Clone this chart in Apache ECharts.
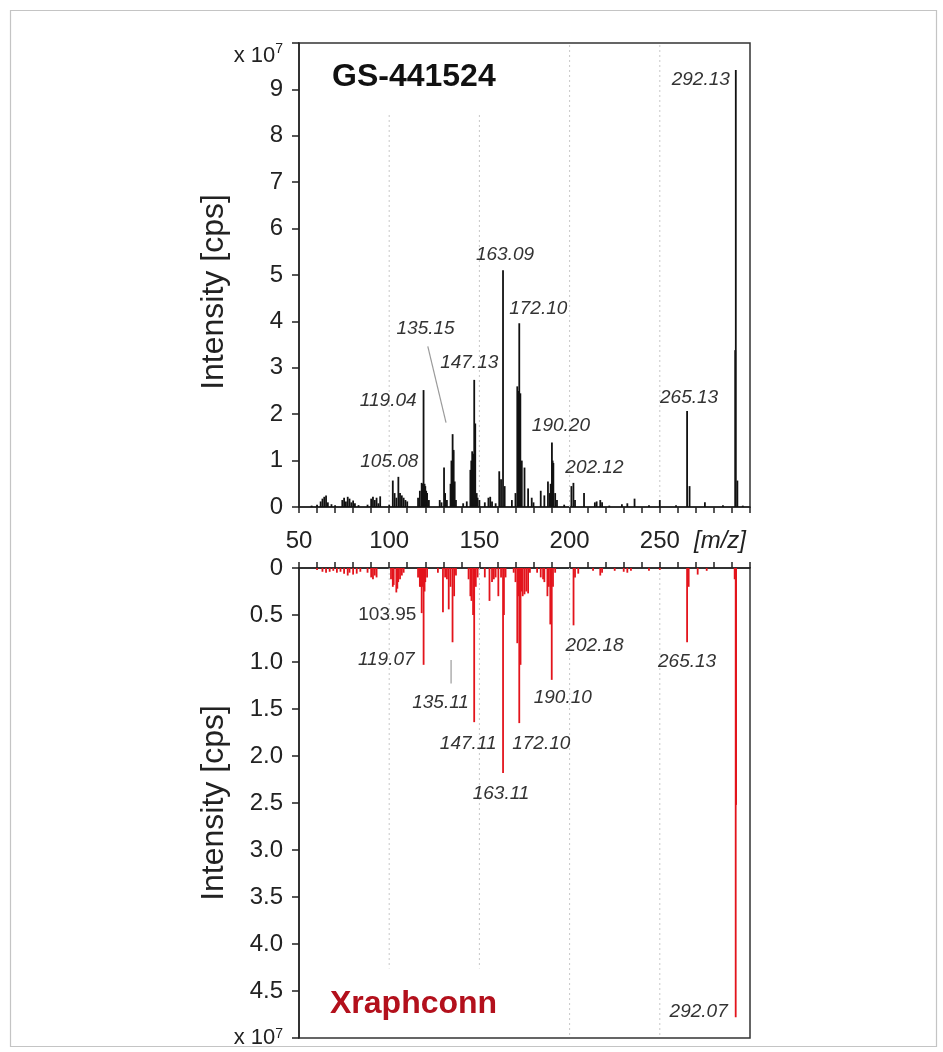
<!DOCTYPE html>
<html>
<head>
<meta charset="utf-8">
<title>GS-441524 / Xraphconn</title>
<script src="https://cdn.jsdelivr.net/npm/echarts@6/dist/echarts.min.js"></script>
<style>
  html, body { margin: 0; padding: 0; background: #fff; }
  #main { width: 943px; height: 1052px; }
</style>
</head>
<body>
<div id="main"></div>
<script>
// ---- data (intensity in units of 1e7 cps) ----
var mzTicks = [50, 100, 150, 200, 250];

// GS-441524 spectrum: [m/z, intensity]
var gsPeaks = [
  [57, 0.03], [60, 0.05], [62, 0.12], [63, 0.18], [64, 0.22], [65, 0.25], [66, 0.1], [68, 0.06], [70, 0.04],
  [74, 0.15], [75, 0.2], [76, 0.12], [77, 0.22], [78, 0.18], [79, 0.1], [80, 0.14], [81, 0.08], [83, 0.04],
  [88, 0.05], [90, 0.18], [91, 0.22], [92, 0.15], [93, 0.2], [94, 0.08], [95, 0.23],
  [100, 0.05], [102, 0.57], [103, 0.3], [104, 0.2], [105.08, 0.65], [106, 0.3], [107, 0.25], [108, 0.2], [109, 0.15], [110, 0.12],
  [116, 0.2], [117, 0.35], [118, 0.52], [118.5, 0.5], [119.04, 2.52], [119.3, 0.48], [119.6, 0.5], [120, 0.45], [120.5, 0.35], [121, 0.3], [122, 0.15],
  [128, 0.15], [129, 0.1], [130.4, 0.85], [131, 0.3], [132, 0.15], [134, 0.5], [134.5, 1.0], [135.15, 1.57], [135.5, 1.2], [135.7, 1.23], [136.3, 0.55], [137, 0.15],
  [141, 0.08], [143, 0.12], [145, 0.8], [145.5, 1.0], [146, 1.2], [146.5, 1.15], [147.13, 2.74], [147.7, 1.8], [148.5, 0.3], [149, 0.2], [150, 0.15],
  [153, 0.1], [155, 0.2], [156, 0.22], [157, 0.12], [159, 0.08], [161, 0.77], [162, 0.6], [163.09, 5.1], [164, 0.45],
  [168, 0.15], [170, 0.3], [171, 2.6], [171.5, 2.5], [172.10, 3.96], [172.4, 2.4], [172.7, 2.45], [173.5, 1.0], [175, 0.85], [177, 0.4], [179, 0.2], [180, 0.1],
  [184, 0.35], [186, 0.25], [188, 0.55], [189, 0.3], [189.5, 0.5], [190.20, 1.39], [190.6, 1.0], [191, 0.95], [192, 0.3], [193, 0.15],
  [197, 0.05], [201, 0.45], [202.12, 0.52], [203, 0.15], [208, 0.3], [214, 0.1], [215, 0.12], [217, 0.15], [218, 0.1],
  [222, 0.03], [229, 0.06], [232, 0.08], [236, 0.18], [244, 0.04], [250, 0.15], [259, 0.04],
  [265.13, 2.07], [266.5, 0.45], [275, 0.1], [285, 0.04],
  [291.8, 3.38], [292.13, 9.42], [293, 0.57], [296, 0.03]
];

// Xraphconn spectrum: [m/z, intensity]
var xrPeaks = [
  [60, 0.02], [63, 0.04], [65, 0.05], [67, 0.04], [69, 0.03], [71, 0.05], [73, 0.04], [75, 0.06], [77, 0.08], [78, 0.05],
  [80, 0.07], [82, 0.06], [84, 0.04],
  [88, 0.05], [90, 0.1], [91, 0.12], [92, 0.08], [93, 0.1],
  [101, 0.12], [102, 0.2], [102.5, 0.18], [103.95, 0.26], [104.5, 0.22], [105, 0.15], [106, 0.12], [107, 0.08], [108, 0.05],
  [116, 0.1], [117, 0.2], [117.5, 0.2], [118, 0.48], [118.5, 0.2], [119.07, 1.03], [119.6, 0.25], [120, 0.15], [121, 0.1],
  [127, 0.05], [129.8, 0.47], [131, 0.1], [132, 0.12], [133, 0.44], [134, 0.2], [135.11, 0.79], [136, 0.3], [137, 0.08],
  [144, 0.12], [145, 0.3], [145.6, 0.35], [146.5, 0.5], [147.11, 1.64], [148, 0.2], [149, 0.1],
  [153, 0.1], [155.6, 0.35], [157, 0.15], [158, 0.12], [159, 0.1], [160.5, 0.3], [162, 0.1], [163.11, 2.18], [163.6, 0.5], [164.5, 0.1],
  [169, 0.05], [170, 0.15], [171, 0.8], [171.5, 0.3], [172.10, 1.65], [172.8, 1.03], [173.5, 0.25], [174, 0.3], [175, 0.28], [176, 0.25], [177, 0.27], [178, 0.05],
  [182, 0.05], [184, 0.1], [185.3, 0.12], [186, 0.15], [187.7, 0.3], [188.5, 0.2], [189.3, 0.6], [190.10, 1.19], [190.8, 0.2], [192, 0.05],
  [202.18, 0.61], [203, 0.1], [204.8, 0.06],
  [213, 0.03], [217, 0.08], [218, 0.05], [225, 0.03], [230, 0.04], [232, 0.05], [234, 0.03], [244, 0.03], [250, 0.02],
  [265.13, 0.79], [266, 0.2], [271, 0.07], [276, 0.03],
  [291.5, 0.12], [292.07, 4.78], [292.3, 2.52]
];

// labelled peaks
var gsLabelMz = [292.13, 265.13, 202.12, 190.20, 172.10, 163.09, 147.13, 135.15, 119.04, 105.08];
var gsLabelI  = [9.42, 2.07, 0.52, 1.39, 3.96, 5.1, 2.74, 1.57, 2.52, 0.65];
var xrLabelMz = [292.07, 265.13, 202.18, 190.10, 172.10, 163.11, 147.11, 135.11, 119.07, 103.95];
var xrLabelI  = [4.78, 0.79, 0.61, 1.19, 1.65, 2.18, 1.64, 0.79, 1.03, 0.26];

// leader lines (m/z, intensity)
var gsLeader = [[121.4, 3.46], [131.5, 1.82]];
var xrLeader = [[134.3, 0.98], [134.3, 1.23]];

// ---- layout (pixel offsets of labels from the peak tip) ----
var gsLabelPos = {
  '292.13': [-6, 10, 'right'], '265.13': [2, -13, 'center'], '202.12': [21, -15, 'center'],
  '190.20': [9, -17, 'center'], '172.10': [19, -15, 'center'], '163.09': [2, -16, 'center'],
  '147.13': [-5, -17, 'center'], '135.15': [-27, -105, 'center'], '119.04': [-7, 11, 'right'],
  '105.08': [-9, -15, 'center']
};
var xrLabelPos = {
  '292.07': [-8, -6, 'right'], '265.13': [0, 19, 'center'], '202.18': [21, 20, 'center'],
  '190.10': [11, 18, 'center'], '172.10': [22, 21, 'center'], '163.11': [-2, 21, 'center'],
  '147.11': [-6, 22, 'center'], '135.11': [-12, 60, 'center'], '119.07': [-9, -5, 'right'],
  '103.95': [-9, 22, 'center']
};
var gsGrid = [[100, 8.5], [150, 8.5], [200, 10], [250, 10]];
var xrGrid = [[100, 4.26], [150, 4.26], [200, 5], [250, 5]];

var FONT = 'Liberation Sans, Arial, Helvetica, sans-serif';
var BLACK = '#111';
var RED = '#e3141c';

function stickSeries(data, xi, color, width) {
  return {
    type: 'custom', xAxisIndex: xi, yAxisIndex: xi, z: 3, clip: true,
    data: data,
    renderItem: function (params, api) {
      var a = api.coord([api.value(0), 0]);
      var b = api.coord([api.value(0), api.value(1)]);
      return { type: 'line', shape: { x1: a[0], y1: a[1], x2: b[0], y2: b[1] },
               style: { stroke: color, lineWidth: width } };
    }
  };
}

function gridSeries(data, xi) {
  return {
    type: 'custom', xAxisIndex: xi, yAxisIndex: xi, z: 1, silent: true,
    data: data,
    renderItem: function (params, api) {
      var a = api.coord([api.value(0), 0]);
      var b = api.coord([api.value(0), api.value(1)]);
      return { type: 'line', shape: { x1: a[0], y1: a[1], x2: b[0], y2: b[1] },
               style: { stroke: '#c8c8c8', lineWidth: 1, lineDash: [2, 3] } };
    }
  };
}

function labelSeries(mz, inten, pos, xi, uprightKey) {
  var d = mz.map(function (m, i) { return [m, inten[i], i]; });
  return {
    type: 'custom', xAxisIndex: xi, yAxisIndex: xi, z: 5, silent: true,
    data: d,
    renderItem: function (params, api) {
      var txt = mz[api.value(2)].toFixed(2);
      var p = api.coord([api.value(0), api.value(1)]);
      var o = pos[txt];
      return { type: 'text',
               style: { text: txt, x: p[0] + o[0], y: p[1] + o[1], align: o[2], verticalAlign: 'middle',
                        fontSize: 19, fontFamily: FONT, fontStyle: txt === uprightKey ? 'normal' : 'italic',
                        fill: '#333' } };
    }
  };
}

function leaderSeries(data, xi) {
  return {
    type: 'line', xAxisIndex: xi, yAxisIndex: xi, z: 4, silent: true,
    data: data, symbol: 'none',
    lineStyle: { color: '#9a9a9a', width: 1.2 }
  };
}

var axisLineStyle = { color: '#222', width: 1.5 };

var myChart = echarts.init(document.getElementById('main'));
myChart.setOption({
  animation: false,
  backgroundColor: '#fff',
  title: [
    { text: 'GS-441524', left: 332, top: 61, padding: 0,
      textStyle: { fontFamily: FONT, fontSize: 32, fontWeight: 'bold', color: '#111' } },
    { text: 'Xraphconn', left: 330, top: 988, padding: 0,
      textStyle: { fontFamily: FONT, fontSize: 32, fontWeight: 'bold', color: '#b3101c' } }
  ],
  graphic: [
    { type: 'rect', left: 8, top: 8, z: -1, silent: true,
      shape: { width: 926, height: 1036 }, style: { fill: 'none', stroke: '#c4c4c4', lineWidth: 1.2 } },
    { type: 'text', left: 694, top: 529, silent: true,
      style: { text: '[m/z]', fontFamily: FONT, fontSize: 24, fontStyle: 'italic', fill: '#222' } }
  ],
  grid: [
    { left: 299, right: 193, top: 43, bottom: 545, show: true, borderColor: '#333', borderWidth: 1.5 },
    { left: 299, right: 193, top: 568, bottom: 14, show: true, borderColor: '#333', borderWidth: 1.5 }
  ],
  xAxis: [
    { gridIndex: 0, type: 'value', min: 50, max: 300, interval: 50,
      axisLine: { show: true, lineStyle: axisLineStyle },
      axisTick: { show: true, inside: false, length: 6, lineStyle: axisLineStyle },
      minorTick: { show: true, splitNumber: 5, length: 6, lineStyle: axisLineStyle },
      splitLine: { show: false },
      axisLabel: { fontFamily: FONT, fontSize: 24, color: '#222', margin: 22,
                   formatter: function (v) { return mzTicks.indexOf(v) >= 0 ? String(v) : ''; } } },
    { gridIndex: 1, type: 'value', position: 'top', min: 50, max: 300, interval: 50,
      axisLine: { show: true, lineStyle: axisLineStyle },
      axisTick: { show: true, inside: false, length: 6, lineStyle: axisLineStyle },
      minorTick: { show: true, splitNumber: 5, length: 6, lineStyle: axisLineStyle },
      splitLine: { show: false },
      axisLabel: { show: false } }
  ],
  yAxis: [
    { gridIndex: 0, type: 'value', min: 0, max: 10, interval: 1,
      name: 'Intensity [cps]', nameLocation: 'middle', nameGap: 53,
      nameTextStyle: { fontFamily: FONT, fontSize: 32, color: '#222', padding: [0, 34, 0, 0] },
      axisLine: { show: true, lineStyle: axisLineStyle },
      axisTick: { show: true, inside: false, length: 7, lineStyle: axisLineStyle },
      splitLine: { show: false },
      axisLabel: { fontFamily: FONT, fontSize: 24, color: '#222', margin: 16, showMaxLabel: true,
                   formatter: function (v) { return v === 10 ? '{a|x 10}{b|7}' : String(v); },
                   rich: { a: { fontFamily: FONT, fontSize: 22, color: '#222', padding: [26, 0, 0, 0] },
                           b: { fontFamily: FONT, fontSize: 14, color: '#222', verticalAlign: 'top', padding: [23, 0, 0, 0] } } } },
    { gridIndex: 1, type: 'value', min: 0, max: 5, interval: 0.5, inverse: true,
      name: 'Intensity [cps]', nameLocation: 'middle', nameGap: 53,
      nameTextStyle: { fontFamily: FONT, fontSize: 32, color: '#222' },
      axisLine: { show: true, lineStyle: axisLineStyle },
      axisTick: { show: true, inside: false, length: 7, lineStyle: axisLineStyle },
      splitLine: { show: false },
      axisLabel: { fontFamily: FONT, fontSize: 24, color: '#222', margin: 16, showMaxLabel: true,
                   formatter: function (v) { return v === 5 ? '{a|x 10}{b|7}' : (v === 0 ? '0' : v.toFixed(1)); },
                   rich: { a: { fontFamily: FONT, fontSize: 22, color: '#222' },
                           b: { fontFamily: FONT, fontSize: 14, color: '#222', verticalAlign: 'top' } } } }
  ],
  series: [
    gridSeries(gsGrid, 0),
    gridSeries(xrGrid, 1),
    stickSeries(gsPeaks, 0, BLACK, 1.8),
    stickSeries(xrPeaks, 1, RED, 1.8),
    leaderSeries(gsLeader, 0),
    leaderSeries(xrLeader, 1),
    labelSeries(gsLabelMz, gsLabelI, gsLabelPos, 0, ''),
    labelSeries(xrLabelMz, xrLabelI, xrLabelPos, 1, '103.95')
  ]
});
</script>
</body>
</html>
